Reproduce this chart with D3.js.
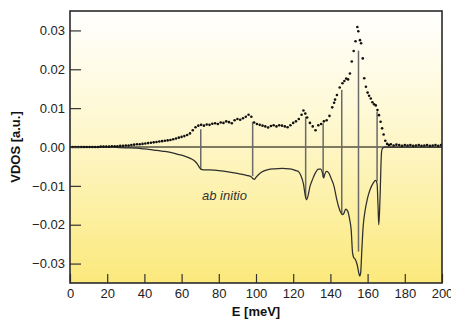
<!DOCTYPE html>
<html>
<head>
<meta charset="utf-8">
<script src="https://cdn.jsdelivr.net/npm/d3@7"></script>
<style>
  html, body { margin: 0; padding: 0; background: #fff; }
  svg { display: block; font-family: "Liberation Sans", Arial, sans-serif; }
</style>
</head>
<body>
<div id="chart"></div>
<script>
// measured VDOS (dots), values in units of 1e-3
const expE = [0,1.5,3,4.5,6,7.5,9,10.5,12,13.5,15,16.5,18,19.5,21,22.5,24,25.5,27,28.5,30,31.5,33,34.5,36,37.5,39,40.5,42,43.5,45,46.5,48,49.5,51,52.5,54,55.5,57,58.5,60,61.5,63,64.5,66,67.5,69,70.5,72,73.5,75,76.5,78,79.5,81,82.5,84,85.5,87,88.5,90,91.5,93,94.5,96,97.5,99,100.5,102,103.5,105,106.5,108,109.5,111,112.5,114,115.5,117,118.5,120,121.5,123,124.5,125.5,126.5,127.5,129,130.5,132,133.5,135,136.5,138,139.5,141,142,142.5,143.5,145,146.5,147.5,148.5,149.5,150.5,151.5,152.5,153.5,154.5,155,155.9,156.5,157.4,158.2,159.1,160,160.8,161.7,162.6,163.5,164.4,165.3,166.1,167,167.8,168.6,169.5,170.5,171.5,172.5,174,175.5,177,178.5,180,181.5,183,184.5,186,187.5,189,190.5,192,193.5,195,196.5,198,199.5];
const expVdos = [0,0,0,0,0,0,0,0,0,0,0,0.1,0.1,0.1,0.1,0.2,0.2,0.2,0.3,0.3,0.4,0.4,0.5,0.6,0.7,0.7,0.8,0.9,1.0,1.1,1.2,1.3,1.4,1.5,1.6,1.7,1.8,2.0,2.2,2.4,2.6,2.8,3.1,3.5,4.3,5.1,5.5,5.7,5.5,5.8,5.7,6.0,6.1,5.9,6.3,6.2,6.6,6.4,6.1,6.9,7.2,7.0,7.4,7.8,8.3,7.8,6.3,5.9,5.7,5.5,5.3,5.0,5.4,5.6,5.3,5.6,5.5,5.3,5.1,5.6,6.2,6.6,7.2,8.3,9.4,8.6,7.6,6.2,5.3,4.3,5.6,5.9,6.6,6.9,8.0,10.2,11.4,12.2,13.4,15.3,16.4,17.0,17.6,17.4,18.9,22.0,24.7,27.2,30.9,29.8,27.5,26.7,22.8,17.7,15.5,14.0,13.2,12.5,11.5,11.0,10.7,9.5,8.2,6.5,4.8,3.2,1.6,0.8,0.5,0.7,0.4,0.6,0.5,0.3,0.5,0.4,0.5,0.3,0.4,0.5,0.3,0.4,0.5,0.3,0.4,0.5,0.3,0.5];

// ab initio VDOS (drawn mirrored below zero), units of 1e-3
const calcE = [0,20,25,30,36,40,45,50,54,58,62,65,67,68.5,69.5,70.3,71,75,80,85,90,95,97.5,98.5,99.2,100,102,104,106.5,110,114,118,120,121.5,122.5,124,125.5,126.5,127.2,128,129,130.5,132,133.5,134.8,135.8,136.4,137,137.8,139,140.5,142,143.4,144.5,145.5,146.5,147.3,148.2,149.3,150.3,151.2,151.9,152.6,153.5,154.5,155.3,155.8,156.3,156.9,157.6,158.6,159.8,161.3,163,164.3,165.1,165.6,166,166.4,166.8,167.1,167.4,167.8,169,200];
const calcVdos = [0,0,-0.1,-0.2,-0.3,-0.5,-0.8,-1.1,-1.4,-1.9,-2.4,-3.0,-3.6,-4.4,-5.2,-5.7,-5.8,-5.9,-6.1,-6.4,-6.8,-7.3,-7.7,-8.2,-8.3,-7.8,-6.8,-6.2,-5.8,-5.6,-5.5,-5.6,-5.8,-6.1,-6.2,-7.2,-9.5,-12.5,-13.6,-12.5,-10.2,-8.2,-6.6,-5.7,-5.7,-6.8,-8.0,-7.0,-6.3,-6.6,-8.2,-10.2,-13.5,-15.5,-16.8,-17.4,-17.0,-16.0,-16.5,-18.5,-21.5,-27.2,-28.5,-29.0,-30.5,-32.5,-33.2,-32.2,-26.5,-20.5,-16.5,-13.5,-11.0,-9.3,-8.6,-9.5,-15.0,-20.0,-17.0,-11.5,-6.0,-2.0,-0.5,0,0];

// tie lines joining measured and calculated peaks, units of 1e-3
const tieE = [70.3, 98.2, 126.7, 136.1, 146.1, 155.1, 165.1];
const tieTop = [4.6, 6.5, 7.8, 6.1, 14.7, 24.8, 9.1];
const tieBottom = [-5.7, -7.5, -13.1, -7.8, -17.2, -26.9, -8.9];

const xTicks = [0, 20, 40, 60, 80, 100, 120, 140, 160, 180, 200];
const yTicks = [-0.03, -0.02, -0.01, 0, 0.01, 0.02, 0.03];
const UNIT = 1e-3;

const W = 451, H = 322;
const margin = { top: 11, right: 9, bottom: 39, left: 70 };
const iw = W - margin.left - margin.right;
const ih = H - margin.top - margin.bottom;

const svg = d3.select('#chart').append('svg')
  .attr('width', W)
  .attr('height', H);

const defs = svg.append('defs');
const grad = defs.append('linearGradient')
  .attr('id', 'bg')
  .attr('x1', 0).attr('y1', 0).attr('x2', 0).attr('y2', 1);
grad.append('stop').attr('offset', '0%').attr('stop-color', '#ffffff');
grad.append('stop').attr('offset', '45%').attr('stop-color', '#fef7cc');
grad.append('stop').attr('offset', '100%').attr('stop-color', '#fbe97c');

defs.append('clipPath').attr('id', 'clip')
  .append('rect').attr('width', iw).attr('height', ih);

const g = svg.append('g')
  .attr('transform', `translate(${margin.left},${margin.top})`);

const x = d3.scaleLinear().domain([0, 200]).range([0, iw]);
const y = d3.scaleLinear().domain([-0.035, 0.035]).range([ih, 0]);

g.append('rect')
  .attr('width', iw)
  .attr('height', ih)
  .attr('fill', 'url(#bg)');

const plot = g.append('g').attr('clip-path', 'url(#clip)');

// zero line
plot.append('line')
  .attr('x1', 0).attr('x2', iw)
  .attr('y1', y(0)).attr('y2', y(0))
  .attr('stroke', '#000')
  .attr('stroke-width', 1.1);

// tie lines
plot.selectAll('.tie')
  .data(tieE)
  .enter().append('line')
  .attr('class', 'tie')
  .attr('x1', d => x(d)).attr('x2', d => x(d))
  .attr('y1', (d, i) => y(tieTop[i] * UNIT))
  .attr('y2', (d, i) => y(tieBottom[i] * UNIT))
  .attr('stroke', '#6a6a6a')
  .attr('stroke-width', 1.5);

// ab initio curve
const line = d3.line()
  .x((d, i) => x(calcE[i]))
  .y(d => y(d * UNIT))
  .curve(d3.curveMonotoneX);

plot.append('path')
  .datum(calcVdos)
  .attr('d', line)
  .attr('fill', 'none')
  .attr('stroke', '#2e2e2e')
  .attr('stroke-width', 1.25);

// measured dots
plot.selectAll('.dot')
  .data(expVdos)
  .enter().append('circle')
  .attr('class', 'dot')
  .attr('cx', (d, i) => x(expE[i]))
  .attr('cy', d => y(d * UNIT))
  .attr('r', 1.3)
  .attr('fill', '#111');

// axes, ticks pointing inwards
const xAxis = g.append('g')
  .attr('transform', `translate(0,${ih})`)
  .call(d3.axisBottom(x).tickValues(xTicks).tickSize(-9).tickPadding(6).tickFormat(d3.format('d')));

const yAxis = g.append('g')
  .call(d3.axisLeft(y).tickValues(yTicks).tickSize(-11).tickPadding(5).tickFormat(d3.format('.2f')));

[xAxis, yAxis].forEach(a => {
  a.select('.domain').remove();
  a.selectAll('line').attr('stroke', '#333').attr('stroke-width', 1.2);
  a.selectAll('text')
    .attr('fill', '#222')
    .style('font-size', '13px')
    .style('font-family', '"Liberation Sans", Arial, sans-serif');
});

// frame
g.append('rect')
  .attr('width', iw)
  .attr('height', ih)
  .attr('fill', 'none')
  .attr('stroke', '#2a2a2a')
  .attr('stroke-width', 1.6);

g.append('text')
  .attr('x', x(71))
  .attr('y', y(-0.0137))
  .attr('font-size', '13px')
  .attr('font-style', 'italic')
  .attr('fill', '#333')
  .text('ab initio');

svg.append('text')
  .attr('x', margin.left + iw / 2)
  .attr('y', 316)
  .attr('text-anchor', 'middle')
  .attr('font-size', '13px')
  .attr('font-weight', 'bold')
  .attr('fill', '#111')
  .text('E [meV]');

svg.append('text')
  .attr('transform', `translate(20,${margin.top + ih / 2}) rotate(-90)`)
  .attr('text-anchor', 'middle')
  .attr('font-size', '13px')
  .attr('font-weight', 'bold')
  .attr('fill', '#111')
  .text('VDOS [a.u.]');
</script>
</body>
</html>
